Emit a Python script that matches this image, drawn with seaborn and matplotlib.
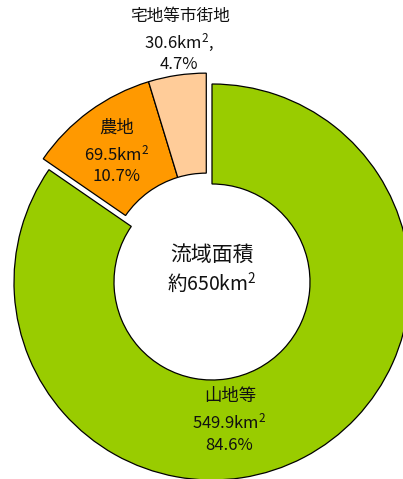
import matplotlib
matplotlib.use("Agg")
import matplotlib.pyplot as plt
import numpy as np
import seaborn as sns

# Data: land use in the basin (km2 and share)
categories = ["山地等", "農地", "宅地等市街地"]
areas_km2 = [549.9, 69.5, 30.6]
shares_pct = [84.6, 10.7, 4.7]
colors = ["#99CC00", "#FF9900", "#FFCC99"]
total_label = "約650km$^\\mathregular{2}$"

sns.set_style("white")
plt.rcParams["font.family"] = ["Noto Sans CJK JP", "DejaVu Sans"]
plt.rcParams["mathtext.default"] = "regular"

W, H = 403, 479
fig = plt.figure(figsize=(W / 100, H / 100), dpi=100)
ax = fig.add_axes([0, 0, 1, 1])

cx, cy = 212, H - 282
r_out = 198
ring = 100

wedges, _ = ax.pie(
    areas_km2,
    colors=colors,
    startangle=90,
    counterclock=False,
    center=(cx, cy),
    radius=r_out,
    wedgeprops=dict(width=ring, edgecolor="black", linewidth=0.9),
)

# explode the two small slices together as one group
frac = np.array(areas_km2) / sum(areas_km2)
mid = np.deg2rad(90 + 360 * frac[1:].sum() / 2)
shift = 0.062 * r_out
for w in wedges[1:]:
    w.set_center((cx + shift * np.cos(mid), cy + shift * np.sin(mid)))

ax.set_xlim(0, W)
ax.set_ylim(0, H)
ax.set_aspect("equal")
ax.axis("off")


def put(x, y, s, size):
    ax.text(x, H - y, s, ha="center", va="center", fontsize=size, color="#111111")


def km(v):
    return f"{v}km$^\\mathregular{{2}}$"


# labels
put(180, 16, categories[2], 12)
put(179, 42, km(areas_km2[2]) + ",", 12)
put(179, 64, f"{shares_pct[2]}%", 12)

put(117, 128, categories[1], 12.5)
put(117, 154, km(areas_km2[1]), 12)
put(116, 176, f"{shares_pct[1]}%", 12)

put(230, 396, categories[0], 12.5)
put(229, 422, km(areas_km2[0]), 12)
put(229, 446, f"{shares_pct[0]}%", 12)

put(212, 255, "流域面積", 15)
put(212, 283, total_label, 14)

fig.savefig("out.png", dpi=100)
